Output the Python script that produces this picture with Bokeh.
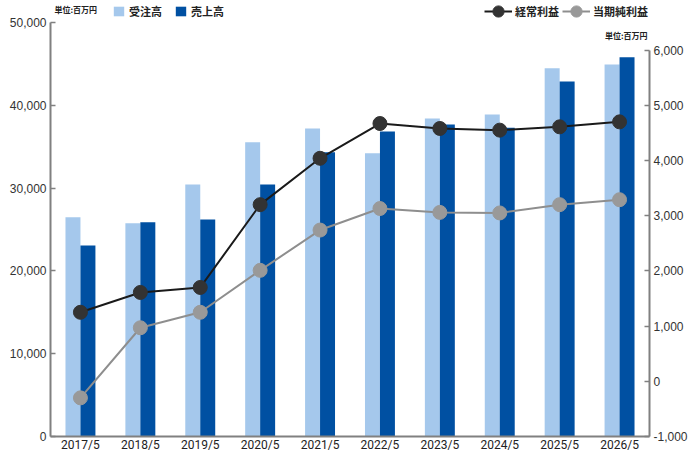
from bokeh.plotting import figure
from bokeh.models import (FactorRange, Range1d, LinearAxis, FixedTicker, NumeralTickFormatter,
                          Legend, LegendItem, Label, ColumnDataSource)
from bokeh.transform import dodge
from bokeh.embed import file_html
from bokeh.resources import INLINE

# ---- data ----
years = ["2017/5", "2018/5", "2019/5", "2020/5", "2021/5",
         "2022/5", "2023/5", "2024/5", "2025/5", "2026/5"]
orders = [26480, 25760, 30430, 35540, 37200, 34220, 38400, 38890, 44480, 44930]   # 受注高
sales = [23070, 25880, 26200, 30430, 34340, 36840, 37680, 37280, 42870, 45810]    # 売上高
ordinary_profit = [1250, 1610, 1700, 3200, 4040, 4670, 4580, 4550, 4610, 4700]    # 経常利益
net_profit = [-300, 970, 1250, 2010, 2740, 3130, 3060, 3050, 3200, 3290]          # 当期純利益
left_ticks = [0, 10000, 20000, 30000, 40000, 50000]
right_ticks = [-1000, 0, 1000, 2000, 3000, 4000, 5000, 6000]

LIGHT = "#a5c8ec"
DARK = "#0050a2"
AXIS = "#808080"

# frame spans the full height above the x axis; the 50,000 / 6,000 ticks sit 22px below its top
FRAME_H = 436
TOP_GAP = 22
left_end = left_ticks[-1] * FRAME_H / (FRAME_H - TOP_GAP)
right_end = right_ticks[0] + 7500 * FRAME_H / (FRAME_H - TOP_GAP)

src = ColumnDataSource(dict(year=years, orders=orders, sales=sales,
                            op=ordinary_profit, np=net_profit))

p = figure(x_range=FactorRange(*years), y_range=Range1d(0, left_end),
           width=690, height=455, output_backend="svg", toolbar_location=None,
           min_border_left=50, min_border_right=41, min_border_top=0, min_border_bottom=19)
p.extra_y_ranges = {"right": Range1d(right_ticks[0], right_end)}
p.outline_line_color = None
p.xgrid.grid_line_color = None
p.ygrid.grid_line_color = None
p.background_fill_color = "white"
p.border_fill_color = "white"

r1 = p.vbar(x=dodge("year", -0.125, range=p.x_range), top="orders", width=0.25,
            source=src, fill_color=LIGHT, line_color=None)
r2 = p.vbar(x=dodge("year", 0.125, range=p.x_range), top="sales", width=0.25,
            source=src, fill_color=DARK, line_color=None)

l2 = p.line(x="year", y="np", y_range_name="right", source=src,
            line_color="#8e8e8e", line_width=2)
m2 = p.scatter(x="year", y="np", y_range_name="right", source=src,
               size=14, fill_color="#999999", line_color="#999999")
l1 = p.line(x="year", y="op", y_range_name="right", source=src,
            line_color="#1a1a1a", line_width=2)
m1 = p.scatter(x="year", y="op", y_range_name="right", source=src,
               size=14, fill_color="#333333", line_color="#333333")

# axes
yl = p.yaxis[0]
yl.ticker = FixedTicker(ticks=left_ticks)
yl.bounds = (left_ticks[0], left_ticks[-1])
yr = LinearAxis(y_range_name="right", ticker=FixedTicker(ticks=right_ticks),
                bounds=(right_ticks[0], right_ticks[-1]))
p.add_layout(yr, "right")
for ax in (yl, yr):
    ax.formatter = NumeralTickFormatter(format="0,0")
    ax.axis_line_color = AXIS
    ax.axis_line_width = 2
    ax.major_tick_in = 5
    ax.major_tick_out = 0
    ax.major_tick_line_color = AXIS
    ax.major_tick_line_width = 1.5
    ax.minor_tick_line_color = None
    ax.minor_tick_in = 0
    ax.minor_tick_out = 0
    ax.major_label_text_font = "Liberation Sans"
    ax.major_label_text_font_size = "12px"
    ax.major_label_text_color = "#333333"
    ax.major_label_standoff = 4

xa = p.xaxis[0]
xa.axis_line_color = AXIS
xa.axis_line_width = 2
xa.major_tick_line_color = None
xa.minor_tick_line_color = None
xa.major_tick_in = 0
xa.major_tick_out = 0
xa.minor_tick_in = 0
xa.minor_tick_out = 0
xa.major_label_text_font = "Roboto"
xa.major_label_text_font_size = "12px"
xa.major_label_text_color = "#222222"
xa.major_label_standoff = 1

def style_legend(lg, gw, gh):
    lg.orientation = "horizontal"
    lg.border_line_color = None
    lg.background_fill_alpha = 0
    lg.padding = 0
    lg.margin = 0
    lg.spacing = 12
    lg.label_standoff = 4
    lg.glyph_width = gw
    lg.glyph_height = gh
    lg.label_height = 14
    lg.label_text_font = "Noto Sans CJK JP"
    lg.label_text_font_size = "11px"
    lg.label_text_font_style = "bold"
    lg.label_text_color = "#222222"

leg1 = Legend(items=[LegendItem(label="受注高", renderers=[r1]),
                     LegendItem(label="売上高", renderers=[r2])],
              location=(62, 417))
style_legend(leg1, 13, 12)
leg2 = Legend(items=[LegendItem(label="経常利益", renderers=[l1, m1]),
                     LegendItem(label="当期純利益", renderers=[l2, m2])],
              location=(434, 410))
style_legend(leg2, 28, 30)
leg2.spacing = 3
leg2.label_standoff = 3
p.add_layout(leg1)
p.add_layout(leg2)

unit_l = Label(x=4, y=433, x_units="screen", y_units="screen", text="単位:百万円",
               text_font="Noto Sans CJK JP", text_font_size="8px", text_font_style="bold",
               text_color="#222222", text_baseline="top", text_align="left")
unit_r = Label(x=597, y=407, x_units="screen", y_units="screen", text="単位:百万円",
               text_font="Noto Sans CJK JP", text_font_size="8px", text_font_style="bold",
               text_color="#222222", text_baseline="top", text_align="right")
p.add_layout(unit_l)
p.add_layout(unit_r)

open("out.html", "w").write(file_html(p, INLINE))
